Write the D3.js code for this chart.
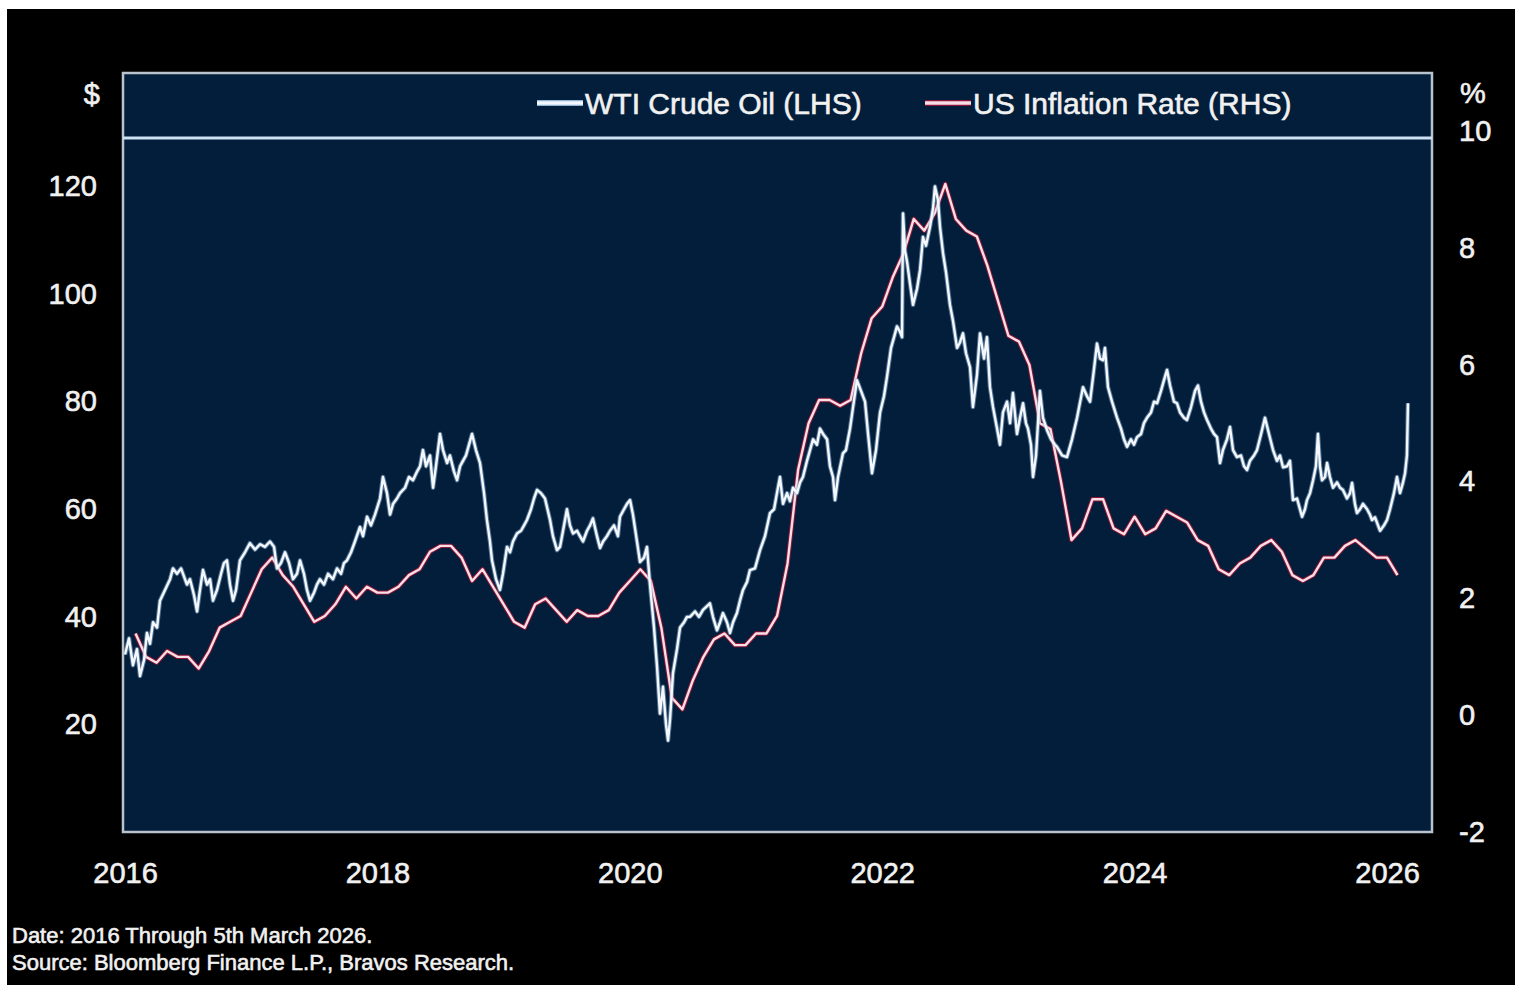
<!DOCTYPE html>
<html>
<head>
<meta charset="utf-8">
<script src="https://cdn.jsdelivr.net/npm/d3@7"></script>
<style>
  html, body { margin: 0; padding: 0; background: #ffffff; }
  svg { display: block; }
  text { font-family: "Liberation Sans", Arial, Helvetica, sans-serif; }
</style>
</head>
<body>
<svg id="chart" width="1522" height="993"></svg>
<script>
// WTI crude oil, weekly-ish closes: [decimal year, USD per barrel]
const oilSeries = [
  [2016.000,33],[2016.032,36],[2016.063,31],[2016.095,34],[2016.119,29],[2016.151,32],[2016.174,37],[2016.198,35],
  [2016.222,39],[2016.254,38],[2016.277,43],[2016.317,45],[2016.357,47],[2016.380,49],[2016.412,48],[2016.444,49],
  [2016.491,46],[2016.515,47],[2016.547,44],[2016.571,41],[2016.594,45],[2016.618,48.7],[2016.650,46],[2016.674,47],
  [2016.697,43],[2016.729,45],[2016.761,48],[2016.784,50],[2016.808,50.5],[2016.832,46],[2016.856,43],[2016.880,45],
  [2016.911,50.5],[2016.951,52],[2016.990,53.7],[2017.030,52.5],[2017.070,53.5],[2017.109,53],[2017.149,54],[2017.181,53],
  [2017.204,49],[2017.236,50],[2017.268,52],[2017.300,50],[2017.331,47],[2017.363,48],[2017.387,50.5],[2017.418,48],
  [2017.442,45],[2017.466,43],[2017.498,44.5],[2017.521,46],[2017.545,47],[2017.577,46],[2017.609,48],[2017.648,47],
  [2017.680,49],[2017.712,48],[2017.735,50],[2017.759,50.5],[2017.791,52],[2017.822,54],[2017.862,56.7],[2017.886,55],
  [2017.918,58.6],[2017.949,57],[2017.981,59],[2018.021,62],[2018.044,66],[2018.076,63],[2018.100,59],[2018.124,61],
  [2018.155,62],[2018.179,63],[2018.219,64],[2018.250,66],[2018.282,65.4],[2018.314,67],[2018.338,68],[2018.361,71],
  [2018.385,68],[2018.417,70],[2018.441,64],[2018.464,68],[2018.496,74],[2018.520,71],[2018.552,68.6],[2018.575,70],
  [2018.607,67],[2018.631,65.4],[2018.655,68],[2018.678,69],[2018.702,70],[2018.726,72],[2018.750,74],[2018.781,71],
  [2018.813,68.6],[2018.845,63],[2018.868,58],[2018.892,54],[2018.908,50.5],[2018.940,47],[2018.971,45],[2018.995,48],
  [2019.027,53],[2019.051,52],[2019.074,54],[2019.106,55.5],[2019.138,56],[2019.162,57],[2019.185,58],[2019.217,60],
  [2019.241,62],[2019.265,63.6],[2019.296,63],[2019.328,62],[2019.368,58],[2019.391,55],[2019.423,52.4],[2019.447,53],
  [2019.471,56],[2019.502,60],[2019.526,57],[2019.550,55.5],[2019.582,56],[2019.605,55],[2019.629,54],[2019.661,56],
  [2019.685,57],[2019.708,58.3],[2019.740,55],[2019.764,52.8],[2019.788,54],[2019.819,55],[2019.843,56],[2019.875,57],
  [2019.906,55],[2019.922,58.6],[2019.954,60],[2019.978,61],[2020.002,61.7],[2020.025,59],[2020.057,54],[2020.081,50.2],
  [2020.113,51],[2020.136,53],[2020.160,46],[2020.192,38],[2020.216,30.7],[2020.239,22],[2020.263,27],[2020.287,20],
  [2020.303,17],[2020.319,21],[2020.342,29.5],[2020.374,34],[2020.398,38],[2020.430,39],[2020.453,40],[2020.477,40],
  [2020.517,41],[2020.548,40],[2020.580,41.3],[2020.612,42],[2020.635,42.5],[2020.659,40],[2020.691,37.5],[2020.715,39],
  [2020.738,40.7],[2020.770,39],[2020.794,37],[2020.818,39],[2020.849,40.7],[2020.873,43],[2020.897,45],[2020.929,46.5],
  [2020.952,48.7],[2020.992,49],[2021.032,52.4],[2021.071,55],[2021.111,59.3],[2021.143,60],[2021.166,63],[2021.190,66],
  [2021.214,61],[2021.246,63],[2021.269,61.5],[2021.293,64],[2021.325,63],[2021.349,65],[2021.372,66],[2021.404,69],
  [2021.428,71],[2021.452,73],[2021.483,72],[2021.507,75],[2021.531,74],[2021.563,73],[2021.586,68],[2021.610,66],
  [2021.626,61.7],[2021.650,66],[2021.689,70.4],[2021.713,71],[2021.745,75],[2021.769,79],[2021.800,84],[2021.832,82],
  [2021.864,80],[2021.888,74],[2021.919,66.7],[2021.951,71],[2021.983,78],[2022.014,81],[2022.038,84.6],[2022.070,90],
  [2022.094,92],[2022.117,94],[2022.141,93],[2022.157,92],[2022.165,115],[2022.181,108],[2022.197,106],[2022.220,102],
  [2022.244,98],[2022.276,101],[2022.300,104.5],[2022.323,110.6],[2022.347,109],[2022.379,112.5],[2022.403,116],[2022.418,120],
  [2022.442,117.5],[2022.458,112.5],[2022.482,107.6],[2022.506,104],[2022.537,98],[2022.561,95],[2022.593,90],[2022.616,91],
  [2022.640,92.7],[2022.664,89],[2022.696,86.4],[2022.719,79],[2022.751,85],[2022.775,92.7],[2022.807,88],[2022.830,92],
  [2022.854,82.7],[2022.878,79],[2022.910,75],[2022.933,72],[2022.957,78],[2022.989,80],[2023.013,76],[2023.036,81.6],
  [2023.068,74],[2023.092,77],[2023.116,79.7],[2023.139,76],[2023.155,75],[2023.179,72],[2023.195,66],[2023.219,70],
  [2023.250,82],[2023.274,77],[2023.306,74.7],[2023.338,73],[2023.369,72],[2023.385,71.6],[2023.425,70],[2023.464,69.7],
  [2023.504,73],[2023.544,77],[2023.591,82.7],[2023.623,81],[2023.647,80],[2023.678,86],[2023.702,90.8],[2023.726,88],
  [2023.750,87.7],[2023.765,90],[2023.789,82.7],[2023.821,80],[2023.861,77],[2023.892,75],[2023.916,73],[2023.940,71.6],
  [2023.971,73],[2023.995,72],[2024.019,73.4],[2024.051,74],[2024.074,76],[2024.098,77],[2024.130,78],[2024.154,80],
  [2024.178,79.7],[2024.209,82],[2024.233,84],[2024.257,85.9],[2024.281,83],[2024.312,80],[2024.336,79.7],[2024.360,78],
  [2024.391,77],[2024.415,76.6],[2024.447,79],[2024.479,82],[2024.502,83],[2024.526,80],[2024.550,78],[2024.574,76.6],
  [2024.605,75],[2024.629,74],[2024.653,73.4],[2024.677,68.6],[2024.700,71],[2024.732,73],[2024.756,75.3],[2024.780,71],
  [2024.811,69.7],[2024.843,70],[2024.867,68],[2024.891,67.3],[2024.914,69],[2024.946,70],[2024.970,71],[2025.002,74],
  [2025.033,77],[2025.065,74],[2025.097,71],[2025.128,69],[2025.152,70],[2025.176,67.8],[2025.208,68],[2025.231,69],
  [2025.255,61.7],[2025.287,62],[2025.327,58.6],[2025.350,60],[2025.366,61.7],[2025.390,63],[2025.414,65.4],[2025.437,68],
  [2025.453,74],[2025.469,68],[2025.485,65.4],[2025.509,66],[2025.525,68.6],[2025.548,66],[2025.572,64],[2025.604,65],
  [2025.628,64],[2025.651,63.6],[2025.683,62],[2025.707,63],[2025.723,64.9],[2025.746,61],[2025.762,59.3],[2025.786,60],
  [2025.810,61],[2025.842,60],[2025.865,59],[2025.881,58],[2025.905,58.5],[2025.929,57],[2025.945,56],[2025.976,57],
  [2026.000,58],[2026.024,60],[2026.055,63],[2026.079,66],[2026.103,63],[2026.127,65],[2026.143,66.7],[2026.158,70],
  [2026.166,79.7]
];

// US CPI, year-over-year %, monthly from January 2016 (null = no release)
const cpiStartYear = 2016;
const cpiValues = [
  1.4, 1.0, 0.9, 1.1, 1.0, 1.0, 0.8, 1.1, 1.5, 1.6, 1.7, 2.1,
  2.5, 2.7, 2.4, 2.2, 1.9, 1.6, 1.7, 1.9, 2.2, 2.0, 2.2, 2.1,
  2.1, 2.2, 2.4, 2.5, 2.8, 2.9, 2.9, 2.7, 2.3, 2.5, 2.2, 1.9,
  1.6, 1.5, 1.9, 2.0, 1.8, 1.6, 1.8, 1.7, 1.7, 1.8, 2.1, 2.3,
  2.5, 2.3, 1.5, 0.3, 0.1, 0.6, 1.0, 1.3, 1.4, 1.2, 1.2, 1.4,
  1.4, 1.7, 2.6, 4.2, 5.0, 5.4, 5.4, 5.3, 5.4, 6.2, 6.8, 7.0,
  7.5, 7.9, 8.5, 8.3, 8.6, 9.1, 8.5, 8.3, 8.2, 7.7, 7.1, 6.5,
  6.4, 6.0, 5.0, 4.9, 4.0, 3.0, 3.2, 3.7, 3.7, 3.2, 3.1, 3.4,
  3.1, 3.2, 3.5, 3.4, 3.3, 3.0, 2.9, 2.5, 2.4, 2.6, 2.7, 2.9,
  3.0, 2.8, 2.4, 2.3, 2.4, 2.7, 2.7, 2.9, 3.0, null, 2.7, 2.7,
  2.4
];

const yearTicks = [2016, 2018, 2020, 2022, 2024, 2026];
const priceTicks = [20, 40, 60, 80, 100, 120];
const rateTicks = [-2, 0, 2, 4, 6, 8, 10];
const legendLabels = ["WTI Crude Oil (LHS)", "US Inflation Rate (RHS)"];
const axisUnits = ["$", "%"];
const notes = [
  "Date: 2016 Through 5th March 2026.",
  "Source: Bloomberg Finance L.P., Bravos Research."
];

// ---- layout ----
const plot = { left: 123, right: 1432, top: 73, bottom: 832, legendBottom: 138 };
const textColor = "#f1f1f1";
const plainNumber = d => String(d);

const svg = d3.select("#chart");

// black card on the white page
svg.append("rect").attr("x", 7).attr("y", 9).attr("width", 1508).attr("height", 976).attr("fill", "#000000");

// scales
const x = d3.scaleLinear().domain([2016, 2026]).range([125, 1387]);
const yL = d3.scaleLinear().domain([0, 141.1]).range([plot.bottom, plot.top]);
const yR = d3.scaleLinear().domain([-2, 11]).range([plot.bottom, plot.top]);

// plot panel
svg.append("rect")
  .attr("x", plot.left).attr("y", plot.top)
  .attr("width", plot.right - plot.left).attr("height", plot.bottom - plot.top)
  .attr("fill", "#021e3a");

svg.append("clipPath").attr("id", "plot-clip")
  .append("rect")
  .attr("x", plot.left).attr("y", plot.legendBottom)
  .attr("width", plot.right - plot.left).attr("height", plot.bottom - plot.legendBottom);

// series
const oil = oilSeries.map(([t, v]) => ({ t, v }));
const cpi = cpiValues
  .map((v, i) => ({ t: cpiStartYear + (i + 1) / 12, v }))
  .filter(d => d.v !== null);

const oilLine = d3.line().x(d => x(d.t)).y(d => yL(d.v));
const cpiLine = d3.line().x(d => x(d.t)).y(d => yR(d.v));

const lines = svg.append("g").attr("clip-path", "url(#plot-clip)");

lines.append("path").datum(cpi).attr("d", cpiLine)
  .attr("fill", "none").attr("stroke", "#8e1538").attr("stroke-width", 4.4)
  .attr("stroke-linejoin", "round");
lines.append("path").datum(cpi).attr("d", cpiLine)
  .attr("fill", "none").attr("stroke", "#f8dfe5").attr("stroke-width", 2.4)
  .attr("stroke-linejoin", "round");

lines.append("path").datum(oil).attr("d", oilLine)
  .attr("fill", "none").attr("stroke", "#8fb4d8").attr("stroke-opacity", 0.55).attr("stroke-width", 4.4)
  .attr("stroke-linejoin", "round");
lines.append("path").datum(oil).attr("d", oilLine)
  .attr("fill", "none").attr("stroke", "#f4f8fc").attr("stroke-width", 2.4)
  .attr("stroke-linejoin", "round");

// panel frame and legend divider
svg.append("rect")
  .attr("x", plot.left).attr("y", plot.top)
  .attr("width", plot.right - plot.left).attr("height", plot.bottom - plot.top)
  .attr("fill", "none").attr("stroke", "#b9c3cd").attr("stroke-width", 2.5);
svg.append("line")
  .attr("x1", plot.left).attr("x2", plot.right)
  .attr("y1", plot.legendBottom).attr("y2", plot.legendBottom)
  .attr("stroke", "#cfe2f4").attr("stroke-width", 3);

// shared text weight: a hairline outline gives the medium look of the labels
function heavyText(sel) {
  sel.attr("fill", textColor).attr("stroke", textColor).attr("stroke-width", 0.6)
    .attr("paint-order", "stroke");
}

// legend
const legendItems = [
  { label: legendLabels[0], x: 537, stroke: "#f4f8fc", halo: "#8fb4d8" },
  { label: legendLabels[1], x: 925, stroke: "#f8dfe5", halo: "#8e1538" }
];
const legend = svg.append("g");
legendItems.forEach(item => {
  legend.append("line")
    .attr("x1", item.x).attr("x2", item.x + 46).attr("y1", 103).attr("y2", 103)
    .attr("stroke", item.halo).attr("stroke-width", 6);
  legend.append("line")
    .attr("x1", item.x).attr("x2", item.x + 46).attr("y1", 103).attr("y2", 103)
    .attr("stroke", item.stroke).attr("stroke-width", 3.5);
  legend.append("text")
    .attr("x", item.x + 48).attr("y", 103).attr("dy", "0.35em")
    .attr("font-size", 30)
    .text(item.label)
    .call(heavyText);
});

// axes
function styleAxis(g) {
  g.select(".domain").remove();
  g.selectAll(".tick line").remove();
  g.selectAll("text").attr("font-size", 29)
    .attr("font-family", "'Liberation Sans', Arial, sans-serif")
    .call(heavyText);
}

svg.append("g")
  .attr("transform", `translate(${plot.left},0)`)
  .call(d3.axisLeft(yL).tickValues(priceTicks).tickSize(0).tickPadding(26).tickFormat(plainNumber))
  .call(styleAxis);

svg.append("g")
  .attr("transform", `translate(${plot.right},0)`)
  .call(d3.axisRight(yR).tickValues(rateTicks).tickSize(0).tickPadding(27).tickFormat(plainNumber))
  .call(styleAxis);

svg.append("g")
  .attr("transform", `translate(0,${plot.bottom})`)
  .call(d3.axisBottom(x).tickValues(yearTicks).tickSize(0).tickFormat(plainNumber))
  .call(styleAxis)
  .call(g => g.selectAll("text").attr("y", 41).attr("dy", "0.35em"));

// unit labels
svg.append("text").attr("x", 100).attr("y", 94).attr("dy", "0.35em")
  .attr("text-anchor", "end").attr("font-size", 29).text(axisUnits[0]).call(heavyText);
svg.append("text").attr("x", 1460).attr("y", 93).attr("dy", "0.35em")
  .attr("font-size", 29).text(axisUnits[1]).call(heavyText);

// footnotes
svg.selectAll(".note").data(notes).join("text")
  .attr("class", "note")
  .attr("x", 12).attr("y", (d, i) => 935 + i * 27).attr("dy", "0.35em")
  .attr("font-size", 22)
  .text(d => d)
  .call(heavyText);
</script>
</body>
</html>
